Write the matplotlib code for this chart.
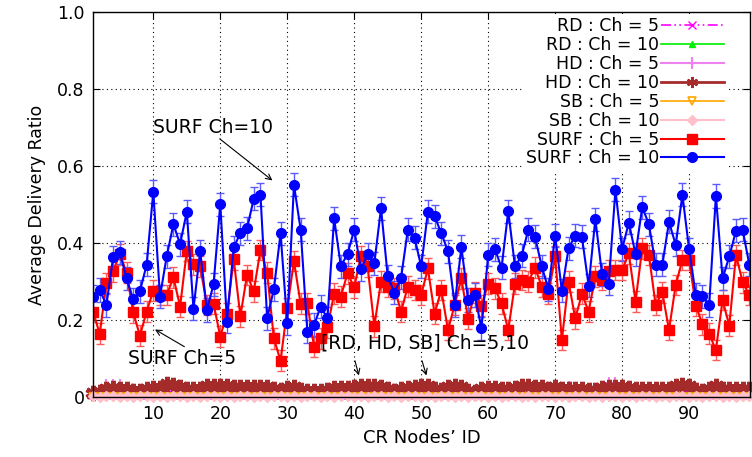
import numpy as np
import matplotlib
matplotlib.use("Agg")
import matplotlib.pyplot as plt
from matplotlib.lines import Line2D

# node ids
nodes = list(range(1, 100))

# SURF, 10 channels
surf10 = [0.261, 0.278, 0.239, 0.363, 0.376, 0.308, 0.254, 0.275, 0.343, 0.533,
          0.261, 0.365, 0.449, 0.397, 0.481, 0.229, 0.379, 0.226, 0.293, 0.501,
          0.196, 0.389, 0.425, 0.438, 0.515, 0.525, 0.204, 0.280, 0.425, 0.191,
          0.551, 0.435, 0.170, 0.187, 0.235, 0.204, 0.464, 0.340, 0.371, 0.435,
          0.332, 0.371, 0.347, 0.490, 0.314, 0.271, 0.310, 0.434, 0.414, 0.339,
          0.481, 0.470, 0.425, 0.379, 0.239, 0.390, 0.252, 0.265, 0.178, 0.369,
          0.384, 0.336, 0.483, 0.339, 0.367, 0.435, 0.416, 0.339, 0.280, 0.419,
          0.276, 0.386, 0.419, 0.416, 0.289, 0.462, 0.319, 0.294, 0.538, 0.384,
          0.453, 0.371, 0.493, 0.449, 0.343, 0.343, 0.455, 0.395, 0.525, 0.384,
          0.265, 0.262, 0.239, 0.522, 0.308, 0.365, 0.432, 0.434, 0.343]
# SURF, 5 channels
surf5 = [0.222, 0.164, 0.295, 0.327, 0.371, 0.323, 0.220, 0.159, 0.222, 0.276,
         0.265, 0.265, 0.311, 0.235, 0.379, 0.345, 0.339, 0.239, 0.242, 0.157,
         0.216, 0.358, 0.210, 0.317, 0.275, 0.382, 0.323, 0.152, 0.094, 0.230,
         0.353, 0.242, 0.243, 0.131, 0.152, 0.181, 0.268, 0.261, 0.321, 0.285,
         0.366, 0.339, 0.184, 0.300, 0.287, 0.282, 0.222, 0.287, 0.278, 0.265,
         0.334, 0.216, 0.278, 0.174, 0.239, 0.308, 0.203, 0.271, 0.237, 0.294,
         0.282, 0.243, 0.174, 0.294, 0.304, 0.300, 0.336, 0.287, 0.268, 0.365,
         0.148, 0.300, 0.204, 0.268, 0.222, 0.313, 0.304, 0.328, 0.330, 0.330,
         0.373, 0.248, 0.386, 0.369, 0.239, 0.272, 0.174, 0.291, 0.356, 0.356,
         0.237, 0.189, 0.164, 0.122, 0.252, 0.185, 0.369, 0.298, 0.265]
surf10_err = 0.03
surf5_err = 0.027

# HD, 10 channels
hd10 = [0.010, 0.013, 0.022, 0.024, 0.022, 0.021, 0.016, 0.016, 0.020, 0.024,
        0.024, 0.033, 0.032, 0.025, 0.022, 0.020, 0.022, 0.028, 0.029, 0.029,
        0.028, 0.027, 0.027, 0.026, 0.026, 0.026, 0.025, 0.020, 0.019, 0.024,
        0.025, 0.019, 0.016, 0.016, 0.016, 0.018, 0.024, 0.024, 0.024, 0.026,
        0.028, 0.028, 0.028, 0.027, 0.020, 0.016, 0.020, 0.024, 0.025, 0.028,
        0.028, 0.021, 0.019, 0.026, 0.028, 0.027, 0.015, 0.013, 0.020, 0.023,
        0.024, 0.021, 0.021, 0.024, 0.028, 0.028, 0.027, 0.025, 0.022, 0.026,
        0.021, 0.021, 0.021, 0.021, 0.018, 0.017, 0.024, 0.026, 0.026, 0.025,
        0.024, 0.022, 0.021, 0.021, 0.021, 0.021, 0.022, 0.028, 0.031, 0.029,
        0.017, 0.016, 0.022, 0.028, 0.022, 0.021, 0.021, 0.021, 0.020]
# HD, 5 channels
hd5 = [0.012, 0.016, 0.030, 0.032, 0.030, 0.024, 0.018, 0.017, 0.022, 0.026,
       0.025, 0.035, 0.034, 0.027, 0.024, 0.022, 0.024, 0.029, 0.030, 0.030,
       0.029, 0.028, 0.028, 0.027, 0.027, 0.026, 0.026, 0.022, 0.020, 0.027,
       0.028, 0.020, 0.017, 0.017, 0.017, 0.019, 0.025, 0.025, 0.025, 0.027,
       0.029, 0.029, 0.029, 0.028, 0.022, 0.017, 0.021, 0.025, 0.026, 0.029,
       0.029, 0.023, 0.020, 0.027, 0.029, 0.028, 0.016, 0.014, 0.021, 0.024,
       0.025, 0.022, 0.022, 0.025, 0.029, 0.029, 0.028, 0.026, 0.023, 0.027,
       0.022, 0.025, 0.024, 0.022, 0.019, 0.018, 0.025, 0.036, 0.037, 0.026,
       0.025, 0.023, 0.022, 0.022, 0.022, 0.022, 0.023, 0.029, 0.032, 0.030,
       0.018, 0.017, 0.023, 0.029, 0.023, 0.022, 0.022, 0.022, 0.021]
# RD, 10 channels
rd10 = [0.010, 0.011, 0.012, 0.010, 0.012, 0.011, 0.009, 0.012, 0.010, 0.011,
        0.012, 0.010, 0.011, 0.012, 0.009, 0.011, 0.010, 0.012, 0.011, 0.010,
        0.012, 0.011, 0.010, 0.012, 0.011, 0.009, 0.012, 0.010, 0.011, 0.012,
        0.010, 0.011, 0.009, 0.012, 0.010, 0.011, 0.012, 0.010, 0.011, 0.012,
        0.010, 0.011, 0.012, 0.009, 0.011, 0.010, 0.012, 0.011, 0.010, 0.012,
        0.011, 0.010, 0.012, 0.011, 0.009, 0.012, 0.010, 0.011, 0.012, 0.010,
        0.011, 0.012, 0.010, 0.011, 0.009, 0.012, 0.010, 0.011, 0.012, 0.010,
        0.011, 0.012, 0.009, 0.011, 0.010, 0.012, 0.011, 0.010, 0.012, 0.011,
        0.010, 0.012, 0.011, 0.009, 0.012, 0.010, 0.011, 0.012, 0.010, 0.011,
        0.012, 0.010, 0.011, 0.012, 0.009, 0.011, 0.010, 0.012, 0.011]
# RD, 5 channels
rd5 = [0.006, 0.005, 0.007, 0.006, 0.005, 0.007, 0.006, 0.005, 0.006, 0.007,
       0.005, 0.006, 0.007, 0.006, 0.005, 0.006, 0.007, 0.005, 0.006, 0.007,
       0.006, 0.005, 0.007, 0.006, 0.005, 0.006, 0.007, 0.005, 0.006, 0.007,
       0.006, 0.005, 0.007, 0.006, 0.005, 0.006, 0.007, 0.005, 0.006, 0.007,
       0.006, 0.005, 0.007, 0.006, 0.005, 0.006, 0.007, 0.005, 0.006, 0.007,
       0.006, 0.005, 0.007, 0.006, 0.005, 0.006, 0.007, 0.005, 0.006, 0.007,
       0.006, 0.005, 0.007, 0.006, 0.005, 0.006, 0.007, 0.005, 0.006, 0.007,
       0.006, 0.005, 0.007, 0.006, 0.005, 0.006, 0.007, 0.005, 0.006, 0.007,
       0.006, 0.005, 0.007, 0.006, 0.005, 0.006, 0.007, 0.005, 0.006, 0.007,
       0.006, 0.005, 0.007, 0.006, 0.005, 0.006, 0.007, 0.005, 0.006]
# SB, both channel settings (all zero / near zero)
sb5 = [0.0] * 99
sb10 = [0.002, 0.001, 0.002, 0.002, 0.001, 0.002, 0.001, 0.002, 0.002, 0.001,
        0.002, 0.001, 0.002, 0.002, 0.001, 0.002, 0.001, 0.002, 0.002, 0.001,
        0.002, 0.001, 0.002, 0.002, 0.001, 0.002, 0.001, 0.002, 0.002, 0.001,
        0.002, 0.001, 0.002, 0.002, 0.001, 0.002, 0.001, 0.002, 0.002, 0.001,
        0.002, 0.001, 0.002, 0.002, 0.001, 0.002, 0.001, 0.002, 0.002, 0.001,
        0.002, 0.001, 0.002, 0.002, 0.001, 0.002, 0.001, 0.002, 0.002, 0.001,
        0.002, 0.001, 0.002, 0.002, 0.001, 0.002, 0.001, 0.002, 0.002, 0.001,
        0.002, 0.001, 0.002, 0.002, 0.001, 0.002, 0.001, 0.002, 0.002, 0.001,
        0.002, 0.001, 0.002, 0.002, 0.001, 0.002, 0.001, 0.002, 0.002, 0.001,
        0.002, 0.001, 0.002, 0.002, 0.001, 0.002, 0.001, 0.002, 0.002]

labels = ['RD : Ch = 5', 'RD : Ch = 10', 'HD : Ch = 5', 'HD : Ch = 10',
          'SB : Ch = 5', 'SB : Ch = 10', 'SURF : Ch = 5', 'SURF : Ch = 10']
ytick_vals = [0, 0.2, 0.4, 0.6, 0.8, 1.0]
ytick_labels = ["0", "0.2", "0.4", "0.6", "0.8", "1.0"]
xtick_vals = [10, 20, 30, 40, 50, 60, 70, 80, 90]

plt.rcParams['font.family'] = ['DejaVu Sans']

fig = plt.figure(figsize=(7.52, 4.57), dpi=100)
ax = fig.add_axes([0.1237, 0.1313, 0.8737, 0.8424])

handles = []
l, = ax.plot(nodes, rd5, color='#ff00ff', ls=(0, (6, 2, 1, 2, 1, 2)), lw=1.2,
             marker='x', ms=6, clip_on=False)
handles.append(l)
l, = ax.plot(nodes, rd10, color='#00ee00', lw=1.2, marker='^', ms=4,
             clip_on=False)
handles.append(l)
l, = ax.plot(nodes, hd5, color='#ee82ee', lw=1.5, marker='+', ms=8, mew=1.5,
             clip_on=False)
handles.append(l)
ax.plot(nodes, hd10, color='#a52a2a', lw=2, marker=(6, 2, 0), ms=11, mew=3.5,
        clip_on=False)
# smaller marker for the key entry
handles.append(Line2D([], [], color='#a52a2a', lw=2, marker=(6, 2, 0), ms=8, mew=1.5))
l, = ax.plot(nodes, sb5, color='#ffa500', lw=1.2, marker='v', ms=6, mfc='none',
             mew=1.2, clip_on=False)
handles.append(l)
l, = ax.plot(nodes, sb10, color='#ffc0cb', lw=1.5, marker='D', ms=5,
             clip_on=False)
handles.append(l)

eb = ax.errorbar(nodes, surf5, yerr=surf5_err, color='#ff0000', ecolor='#ff5a5a',
                 elinewidth=1, capsize=3, lw=1.5, marker='s', ms=7)
handles.append(eb[0])
eb = ax.errorbar(nodes, surf10, yerr=surf10_err, color='#0000ff', ecolor='#5a5aff',
                 elinewidth=1, capsize=3, lw=1.5, marker='o', ms=7)
handles.append(eb[0])

ax.set_xlim(1, 99.1)
ax.set_ylim(0, 1.0)
ax.set_xticks(xtick_vals)
ax.set_yticks(ytick_vals)
ax.set_yticklabels(ytick_labels)
ax.tick_params(direction='in', top=True, right=True, length=5,
               labelsize=12.5, pad=6)
ax.grid(True, color='black', ls=(0, (1, 3)), lw=0.8)
for s in ax.spines.values():
    s.set_linewidth(1.0)

ax.set_xlabel("CR Nodes\u2019 ID", fontsize=13, labelpad=4)
ax.set_ylabel("Average Delivery Ratio", fontsize=12.5, labelpad=8)

arrow = dict(arrowstyle='->', color='black', lw=0.8)
ax.text(9.9, 0.701, "SURF Ch=10", fontsize=13.5, va='center', ha='left')
ax.annotate("", xy=(28.1, 0.558), xytext=(19.6, 0.675), arrowprops=arrow)
ax.text(6.2, 0.101, "SURF Ch=5", fontsize=13.5, va='center', ha='left')
ax.annotate("", xy=(9.9, 0.179), xytext=(15.0, 0.127), arrowprops=arrow)
ax.text(35.1, 0.140, "[RD, HD, SB] Ch=5,10", fontsize=13.5, va='center', ha='left')
ax.annotate("", xy=(40.8, 0.049), xytext=(40.0, 0.101), arrowprops=arrow)
ax.annotate("", xy=(50.9, 0.049), xytext=(50.0, 0.101), arrowprops=arrow)

leg = ax.legend(handles, labels, loc='upper right', bbox_to_anchor=(0.965, 0.995),
                frameon=True, fancybox=False, edgecolor='none', facecolor='white',
                framealpha=1, fontsize=12.5, markerfirst=False,
                handlelength=3.6, handletextpad=0.1, labelspacing=0.05,
                borderpad=0.2, borderaxespad=0)
leg.set_zorder(5)

fig.savefig("out.png", dpi=100)
